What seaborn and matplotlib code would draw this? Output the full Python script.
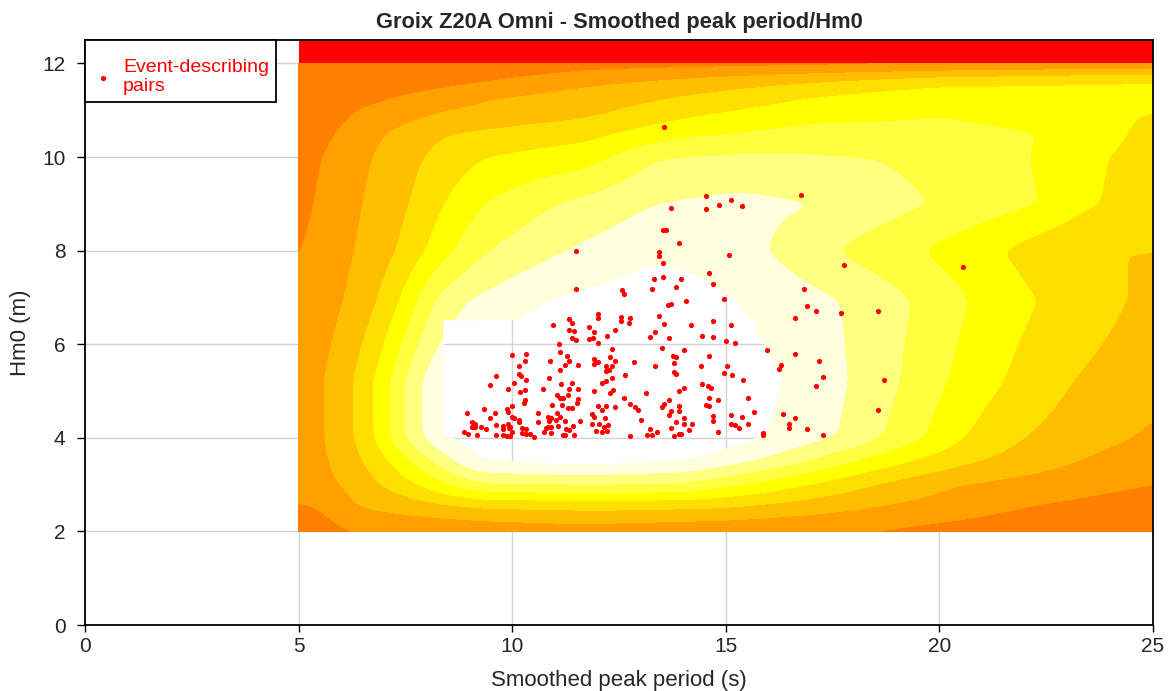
import numpy as np
import matplotlib
matplotlib.use("Agg")
import matplotlib.pyplot as plt
import seaborn as sns

# event-describing pairs: smoothed peak period (s), Hm0 (m)
tp = [11.49, 12.00, 12.02, 11.33, 11.40, 10.96, 11.80, 11.91, 11.90, 12.01, 11.34, 11.44,
      11.40, 11.49, 12.41, 12.23, 11.80, 11.10, 12.34, 9.99, 10.33, 11.11, 11.29, 11.34,
      11.91, 12.02, 11.91, 12.29, 12.40, 10.88, 10.30, 10.16, 11.53, 11.24, 12.19, 12.34,
      12.27, 12.19, 11.11, 10.16, 10.21, 9.63, 10.87, 10.32, 11.40, 12.33, 12.20, 12.10,
      10.05, 9.49, 11.15, 9.91, 10.29, 10.71, 11.32, 11.53, 11.92, 12.35, 12.30, 10.18,
      11.06, 11.12, 11.20, 11.31, 11.53, 11.51, 10.30, 10.27, 9.99, 10.93, 11.16, 11.30,
      11.40, 12.00, 12.19, 12.40, 9.35, 8.94, 9.87, 9.91, 10.61, 11.06, 11.13, 12.10,
      11.86, 11.91, 12.18, 9.49, 9.59, 10.00, 10.05, 10.17, 10.17, 10.84, 10.91, 10.86,
      11.03, 11.23, 11.59, 9.07, 9.14, 9.05, 9.14, 9.26, 9.38, 9.63, 9.78, 9.79,
      9.90, 9.95, 9.92, 10.61, 10.84, 10.90, 10.78, 11.07, 11.25, 11.43, 11.87, 12.04,
      12.24, 12.16, 8.87, 8.97, 9.17, 9.62, 9.78, 9.88, 9.95, 9.99, 10.24, 10.32,
      10.41, 10.52, 10.24, 10.32, 10.74, 10.92, 11.18, 11.23, 11.44, 11.33, 11.97, 12.11,
      12.21,
      13.83, 14.71, 13.28, 12.56, 12.62, 14.96, 14.07, 13.65, 13.72, 12.55, 12.76, 12.55,
      12.73, 13.44, 13.55, 14.19, 14.71, 15.13, 16.63, 13.34, 13.23, 13.66, 14.44, 14.71,
      15.01, 15.21, 15.97, 16.63, 13.51, 14.03, 13.77, 13.83, 14.60, 12.86, 13.34, 13.78,
      14.42, 15.02, 16.24, 16.29, 12.65, 13.78, 13.84, 14.96, 15.14, 15.40, 14.44, 14.59,
      14.66, 14.03, 13.91, 13.13, 12.62, 14.60, 13.66, 14.82, 15.53, 12.76, 13.55, 13.51,
      13.91, 13.91, 12.88, 12.94, 14.54, 14.60, 15.65, 13.72, 13.66, 14.71, 15.13, 15.39,
      16.35, 16.63, 13.01, 14.03, 13.83, 14.03, 14.20, 14.71, 15.13, 15.21, 15.32, 15.53,
      13.72, 14.14, 13.23, 13.40, 13.16, 13.28, 13.78, 13.90, 13.96, 14.82, 15.86, 15.86,
      16.48, 16.48, 12.76,
      13.55, 14.54, 15.13, 14.83, 15.39, 14.54, 16.77, 13.72, 13.54, 13.60, 13.91, 11.49,
      13.44, 13.44, 15.07, 13.54, 17.76, 14.60, 13.33, 13.54, 13.96, 16.82, 16.90,
      17.12, 17.70, 18.56, 17.19, 17.27, 17.11, 18.71, 16.91, 17.27, 18.56, 20.55]
hm0 = [7.19, 6.65, 6.57, 6.54, 6.45, 6.42, 6.37, 6.26, 6.13, 6.03, 6.31, 6.28,
       6.13, 6.08, 6.30, 6.17, 6.12, 6.01, 5.90, 5.78, 5.80, 5.83, 5.74, 5.65,
       5.69, 5.63, 5.57, 5.73, 5.65, 5.64, 5.64, 5.53, 5.55, 5.55, 5.53, 5.53,
       5.44, 5.43, 5.44, 5.36, 5.33, 5.32, 5.27, 5.24, 5.18, 5.27, 5.22, 5.17,
       5.17, 5.13, 5.14, 5.05, 5.03, 5.05, 5.05, 5.05, 5.00, 5.03, 4.96, 4.97,
       4.92, 4.86, 4.85, 4.91, 4.82, 4.74, 4.81, 4.74, 4.69, 4.70, 4.70, 4.64,
       4.64, 4.69, 4.68, 4.65, 4.61, 4.54, 4.61, 4.55, 4.52, 4.54, 4.45, 4.59,
       4.50, 4.45, 4.43, 4.43, 4.53, 4.45, 4.42, 4.39, 4.33, 4.45, 4.43, 4.36,
       4.37, 4.36, 4.35, 4.33, 4.30, 4.24, 4.24, 4.24, 4.19, 4.27, 4.26, 4.19,
       4.30, 4.24, 4.20, 4.33, 4.24, 4.24, 4.22, 4.26, 4.19, 4.26, 4.29, 4.30,
       4.28, 4.24, 4.12, 4.08, 4.06, 4.06, 4.07, 4.04, 4.03, 4.12, 4.11, 4.09,
       4.09, 4.01, 4.20, 4.19, 4.12, 4.10, 4.07, 4.06, 4.05, 4.17, 4.14, 4.13,
       4.14,
       7.22, 7.29, 7.19, 7.15, 7.08, 6.97, 6.92, 6.83, 6.86, 6.58, 6.56, 6.49,
       6.45, 6.60, 6.43, 6.42, 6.49, 6.40, 6.55, 6.27, 6.15, 6.14, 6.18, 6.16,
       6.07, 6.02, 5.88, 5.79, 5.91, 5.88, 5.75, 5.72, 5.75, 5.63, 5.53, 5.60,
       5.53, 5.53, 5.46, 5.55, 5.34, 5.41, 5.37, 5.38, 5.34, 5.24, 5.15, 5.10,
       5.06, 5.06, 4.99, 4.95, 4.86, 4.86, 4.81, 4.81, 4.85, 4.72, 4.73, 4.66,
       4.67, 4.58, 4.65, 4.59, 4.70, 4.68, 4.56, 4.57, 4.48, 4.47, 4.49, 4.45,
       4.50, 4.43, 4.37, 4.43, 4.33, 4.30, 4.30, 4.35, 4.29, 4.27, 4.21, 4.29,
       4.21, 4.16, 4.19, 4.13, 4.06, 4.06, 4.04, 4.09, 4.09, 4.12, 4.10, 4.06,
       4.30, 4.21, 4.03,
       10.64, 9.16, 9.09, 8.98, 8.95, 8.88, 9.18, 8.90, 8.45, 8.43, 8.16, 7.99,
       7.97, 7.88, 7.90, 7.73, 7.69, 7.52, 7.40, 7.43, 7.40, 7.17, 6.82,
       6.70, 6.67, 6.72, 5.64, 5.31, 5.11, 5.24, 4.19, 4.06, 4.59, 7.66]

# smoothed density bands behind the points, 0 = core ... 8 = outermost.
# for each Hm0 row, periods and band value there
band_hm0 = [2.0, 2.5, 3.0, 3.5, 4.0, 5.2, 6.95, 8.0, 9.0, 10.0, 10.5, 11.0, 11.3, 11.5, 11.75, 11.9, 12.0]
band_tp = [
    [5, 6.3, 11.5, 18, 25],
    [5, 5.54, 6.3, 9.25, 12, 15, 18.5, 22, 25],
    [5, 5.97, 6.9, 7.76, 8.4, 9.3, 12, 14.0, 15.5, 17, 18.5, 20.5, 25.2],
    [5, 5.75, 6.5, 7.1, 7.6, 8.1, 8.6, 9.1, 11.5, 14.2, 15.8, 17, 18.1, 19.4, 21, 23.3, 25],
    [5, 5.64, 6.3, 6.77, 7.12, 7.47, 7.86, 8.39, 12, 15.95, 17.67, 18.7, 19.7, 20.6, 22.0, 24.6, 25],
    [5, 5.64, 6.28, 6.75, 7.14, 7.45, 7.84, 8.39, 12.2, 16.35, 17.9, 19.1, 20.2, 21.5, 23.1, 25],
    [5, 6.09, 6.86, 7.36, 7.78, 8.13, 8.9, 10.8, 13.2, 15.25, 17.72, 19.38, 20.7, 22.3, 24.4, 25],
    [5, 5.1, 6.3, 7.3, 7.95, 8.6, 9.4, 11.2, 13.3, 14.7, 16.0, 17.6, 19.6, 21.5, 23.2, 25],
    [5, 5.34, 6.48, 7.61, 8.39, 9.3, 11.0, 13.3, 15.2, 17.3, 19.8, 22.4, 23.7, 25],
    [5, 5.55, 6.7, 7.9, 9.3, 11.75, 13.4, 15.5, 18.5, 20, 22.2, 23.9, 25],
    [5, 5.85, 7.0, 8.4, 11.75, 14, 17, 20, 22.5, 25],
    [5, 6.3, 8.5, 11.75, 14.5, 17, 20, 22.5, 25],
    [5, 7.2, 9.5, 11.75, 14.5, 17, 20, 25],
    [5, 8.5, 11.75, 14.5, 17, 20, 25],
    [5, 11.75, 16, 20, 25],
    [5, 11.75, 20, 25],
    [5, 12, 25],
]
band_val = [
    [8.6, 8, 7.5, 8, 9],
    [8.1, 8, 7, 6, 5.8, 6, 7, 8, 8.6],
    [7.6, 7, 6, 5, 4, 3, 2.85, 3, 4, 5, 6, 7, 8],
    [7.5, 7, 6, 5, 4, 3, 2, 1, 0.6, 1, 2, 3, 4, 5, 6, 7, 7.7],
    [7.6, 7, 6, 5, 4, 3, 2, 1, -1, 1, 2, 3, 4, 5, 6, 7, 7.2],
    [7.5, 7, 6, 5, 4, 3, 2, 1, -1.2, 1, 2, 3, 4, 5, 6, 6.6],
    [7.8, 7, 6, 5, 4, 3, 2, 1, 0.4, 1, 2, 3, 4, 5, 6, 6.2],
    [8.1, 8, 7, 6, 5, 4, 3, 2, 1.2, 1.3, 2, 3, 4, 5, 6, 6.0],
    [8.3, 8, 7, 6, 5, 4, 3, 2, 1.7, 2, 3, 4, 5, 5.4],
    [8.4, 8, 7, 6, 5, 4.4, 3.0, 2.8, 3.0, 3.4, 4, 5, 5.3],
    [8.6, 8, 7, 6, 5.3, 4.2, 3.6, 3.7, 4.0, 5.3],
    [8.9, 8, 7, 6.3, 5.2, 4.5, 4.1, 4.4, 5.0],
    [9.0, 8, 7, 6.6, 5.8, 5.0, 4.4, 4.5],
    [9.2, 8, 6.95, 6.3, 5.6, 4.9, 4.7],
    [9.5, 7.6, 6.8, 6.0, 5.5],
    [9.8, 8.0, 7.4, 7.0],
    [10.2, 8.6, 8.2],
]
# open core of the field and its extent
core_tp = [8.4, 15.7]
core_hm0 = [4.0, 6.5]
field_tp = [5, 25]
field_hm0 = [2, 12]
cap_hm0 = 12.5

band_colors = [(1, 1, 1, 0), "#FFFFE0", "#FFFF80", "#FFFF40", "#FFFF00",
               "#FFDF00", "#FFBF00", "#FFA000", "#FF8000"]


def smooth(a, n, axis):
    # light gaussian blur along one axis, so the row readings join up smoothly
    k = np.exp(-0.5 * (np.arange(-3 * n, 3 * n + 1) / n) ** 2)
    k /= k.sum()
    pad = [(0, 0), (0, 0)]
    pad[axis] = (3 * n, 3 * n)
    a = np.pad(a, pad, mode="edge")
    return np.apply_along_axis(lambda v: np.convolve(v, k, mode="valid"), axis, a)


sns.set_style("ticks")
plt.rcParams["font.family"] = ["Liberation Sans", "DejaVu Sans"]

fig = plt.figure(figsize=(11.74, 6.91), dpi=100)
ax = fig.add_axes([0.0724, 0.0955, 0.9097, 0.8466])

# band field on a fine grid
tp_axis = np.linspace(field_tp[0], field_tp[1], 801)
hm0_axis = np.linspace(field_hm0[0], field_hm0[1], 501)
rows = np.array([np.interp(tp_axis, xs, vs) for xs, vs in zip(band_tp, band_val)])
q = np.array([np.interp(hm0_axis, band_hm0, rows[:, j]) for j in range(len(tp_axis))]).T
q = smooth(smooth(q, 10, 1), 6, 0)
T, H = np.meshgrid(tp_axis, hm0_axis)
core = (T >= core_tp[0]) & (T <= core_tp[1]) & (H >= core_hm0[0]) & (H <= core_hm0[1])
q[core] = -2

ax.contourf(T, H, q, levels=[-100] + list(range(1, 9)) + [1000], colors=band_colors, zorder=1)
ax.fill_between(field_tp, field_hm0[1], cap_hm0, color="#FF0000", lw=0, zorder=1)

sns.scatterplot(x=tp, y=hm0, color="#FF0000", s=14, linewidth=0, ax=ax,
                label="Event-describing\npairs", zorder=3)

ax.set_xlim(0, 25)
ax.set_ylim(0, 12.5)
ax.set_xticks(range(0, 26, 5))
ax.set_yticks(range(0, 13, 2))
ax.grid(True, color="#D4D4D4", lw=1)
ax.set_axisbelow(True)
ax.tick_params(labelsize=15, length=5, width=1, color="black")
ax.tick_params(axis="y", length=6, pad=8)
for s in ax.spines.values():
    s.set_color("black")
    s.set_linewidth(1.3)

ax.set_xlabel("Smoothed peak period (s)", fontsize=16, labelpad=10)
ax.set_ylabel("Hm0 (m)", fontsize=16, labelpad=8)
ax.set_title("Groix Z20A Omni - Smoothed peak period/Hm0", fontsize=15.75,
             fontweight="bold", pad=9)

leg = ax.legend(loc="upper left", borderaxespad=0, fancybox=False, framealpha=1,
                edgecolor="black", fontsize=14, handletextpad=0.45, borderpad=0.35,
                handlelength=1.15, labelspacing=0.55, title=" ", title_fontsize=1)
leg.get_frame().set_linewidth(1.3)
for t in leg.get_texts():
    t.set_color("#FF0000")

fig.savefig("out.png", dpi=100)
